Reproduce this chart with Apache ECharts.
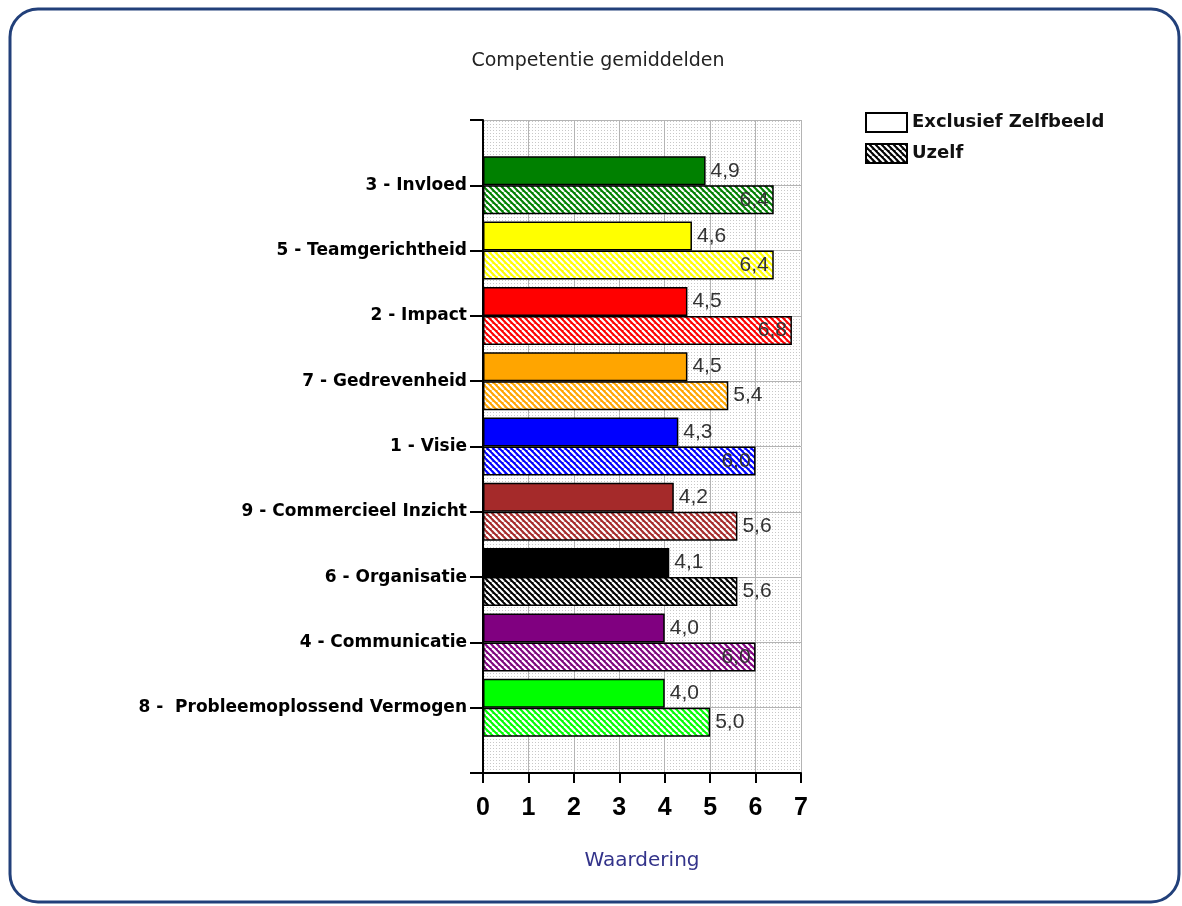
<!DOCTYPE html>
<html>
<head>
<meta charset="utf-8">
<title>Competentie gemiddelden</title>
<script src="https://cdn.jsdelivr.net/npm/echarts@6/dist/echarts.min.js"></script>
<style>
  html, body { margin: 0; padding: 0; background: #fff; }
  #chart { width: 1182px; height: 906px; }
</style>
</head>
<body>
<div id="chart"></div>
<script>
  // competenties, van boven naar beneden
  var categories = [
    '3 - Invloed',
    '5 - Teamgerichtheid',
    '2 - Impact',
    '7 - Gedrevenheid',
    '1 - Visie',
    '9 - Commercieel Inzicht',
    '6 - Organisatie',
    '4 - Communicatie',
    '8 -  Probleemoplossend Vermogen'
  ]
  var exclusiefZelfbeeld = [4.9, 4.6, 4.5, 4.5, 4.3, 4.2, 4.1, 4.0, 4.0]
  var uzelf = [6.4, 6.4, 6.8, 5.4, 6.0, 5.6, 5.6, 6.0, 5.0]
  var catColors = ['#008000', '#ffff00', '#ff0000', '#ffa500', '#0000ff', '#a52a2a', '#000000', '#800080', '#00ff00']
  var seriesNames = ['Exclusief Zelfbeeld', 'Uzelf']

  // schuine arcering (kleur + wit)
  function hatch(color) {
    var c = document.createElement('canvas')
    c.width = 6
    c.height = 6
    var ctx = c.getContext('2d')
    ctx.fillStyle = color
    ctx.fillRect(0, 0, 6, 6)
    ctx.strokeStyle = '#ffffff'
    ctx.lineWidth = 2.2
    for (var x = -6; x <= 6; x += 6) {
      ctx.beginPath()
      ctx.moveTo(x, 0)
      ctx.lineTo(x + 6, 6)
      ctx.stroke()
    }
    return {image: c, repeat: 'repeat'}
  }

  // gestippelde achtergrond van het plotvlak
  function dots() {
    var c = document.createElement('canvas')
    c.width = 3
    c.height = 3
    var ctx = c.getContext('2d')
    ctx.fillStyle = '#ffffff'
    ctx.fillRect(0, 0, 3, 3)
    ctx.fillStyle = '#c8c8c8'
    ctx.fillRect(1, 1, 1, 1)
    return {image: c, repeat: 'repeat'}
  }

  function fmt(v) {
    return v.toFixed(1).replace('.', ',')
  }

  var labelFont = {fontFamily: 'Liberation Sans', fontSize: 21, color: '#333'}

  function buildData(values, patterned) {
    var out = ['-']
    values.map(function (v, i) {
      out.push({
        value: v,
        itemStyle: {color: patterned ? hatch(catColors[i]) : catColors[i]},
        label: {position: (patterned && v >= 6) ? 'insideRight' : 'right'}
      })
    })
    out.push('-')
    return out
  }

  var chart = echarts.init(document.getElementById('chart'))
  chart.setOption({
    animation: false,
    title: {
      text: 'Competentie gemiddelden',
      left: 593,
      textAlign: 'center',
      top: 47,
      textStyle: {fontFamily: 'DejaVu Sans', fontSize: 19, fontWeight: 'normal', color: '#222'}
    },
    legend: {
      orient: 'vertical',
      left: 865,
      top: 112,
      padding: 0,
      itemWidth: 41,
      itemHeight: 19,
      itemGap: 10,
      icon: 'rect',
      data: seriesNames,
      textStyle: {fontFamily: 'DejaVu Sans', fontSize: 18, fontWeight: 'bold', color: '#111'}
    },
    grid: {
      left: 483,
      right: 381,
      top: 120,
      bottom: 133,
      show: true,
      borderWidth: 0,
      backgroundColor: dots()
    },
    xAxis: {
      type: 'value',
      min: 0,
      max: 7,
      interval: 1,
      name: 'Waardering',
      nameLocation: 'middle',
      nameGap: 78,
      nameTextStyle: {fontFamily: 'DejaVu Sans', fontSize: 20, color: '#33338a'},
      axisLine: {show: true, lineStyle: {color: '#000', width: 2}},
      axisTick: {show: true, length: 10, lineStyle: {color: '#000', width: 2}},
      axisLabel: {
        margin: 23,
        fontFamily: 'Liberation Sans',
        fontSize: 25,
        fontWeight: 'bold',
        color: '#000'
      },
      splitLine: {show: true, lineStyle: {color: '#b4b4b4', width: 1}}
    },
    yAxis: {
      type: 'category',
      inverse: true,
      boundaryGap: false,
      data: [''].concat(categories, ['']),
      axisLine: {show: true, lineStyle: {color: '#000', width: 2}},
      axisTick: {show: true, length: 13, lineStyle: {color: '#000', width: 2}},
      axisLabel: {
        margin: 16,
        fontFamily: 'DejaVu Sans',
        fontSize: 17,
        fontWeight: 'bold',
        color: '#000'
      },
      splitLine: {show: true, lineStyle: {color: '#b4b4b4', width: 1}}
    },
    series: [
      {
        name: seriesNames[0],
        type: 'bar',
        barWidth: 29,
        barGap: '0%',
        itemStyle: {color: '#ffffff', borderColor: '#000', borderWidth: 1.5},
        label: Object.assign({show: true, distance: 5, formatter: function (p) { return fmt(p.value) }}, labelFont),
        data: buildData(exclusiefZelfbeeld, false)
      },
      {
        name: seriesNames[1],
        type: 'bar',
        barWidth: 29,
        barGap: '0%',
        itemStyle: {color: hatch('#000000'), borderColor: '#000', borderWidth: 1.5},
        label: Object.assign({show: true, distance: 5, formatter: function (p) { return fmt(p.value) }}, labelFont),
        data: buildData(uzelf, true)
      }
    ],
    graphic: [{
      type: 'rect',
      silent: true,
      shape: {x: 10, y: 9, width: 1169, height: 893, r: 28},
      style: {fill: null, stroke: '#22407a', lineWidth: 3}
    }]
  })
</script>
</body>
</html>
